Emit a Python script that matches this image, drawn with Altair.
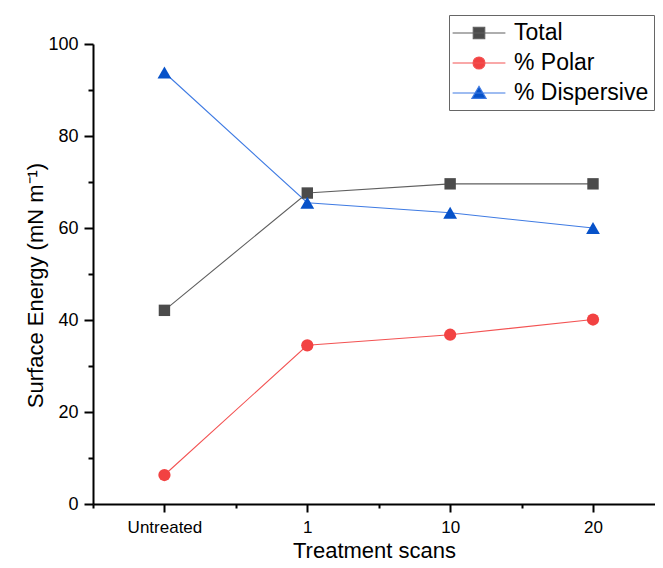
import pandas as pd
import altair as alt

# values
categories = ["Untreated", "1", "10", "20"]
positions = [0, 1, 2, 3]
series_names = ["Total", "% Polar", "% Dispersive"]
total = [42.1, 67.6, 69.6, 69.6]
polar = [6.3, 34.5, 36.8, 40.1]
dispersive = [93.8, 65.5, 63.3, 60.0]

# styling
line_colors = ["#5f5f5f", "#f35353", "#3f7be3"]
marker_colors = ["#4b4b4b", "#f24242", "#0752c9"]
marker_shapes = ["square", "circle", "triangle-up"]
marker_sizes = [130, 150, 190]
# legend glyphs: a line with the marker on top of it
legend_paths = [
    "M-2.2,0H2.2M-0.48,-0.48H0.48V0.48H-0.48Z",
    "M-2.2,0H2.2M-0.5,0A0.5,0.5 0 1,0 0.5,0A0.5,0.5 0 1,0 -0.5,0Z",
    "M-2.2,0H2.2M0,-0.55L0.6,0.45H-0.6Z",
]

rows = []
for name, vals in zip(series_names, [total, polar, dispersive]):
    for p, c, v in zip(positions, categories, vals):
        rows.append({"series": name, "pos": p, "category": c, "value": v})
df = pd.DataFrame(rows)

label_array = "[" + ",".join("'" + c + "'" for c in categories) + "]"

x_axis = alt.Axis(
    values=[-0.5, 0, 0.5, 1, 1.5, 2, 2.5, 3],
    labelExpr=f"datum.value % 1 == 0 ? {label_array}[datum.value] : ''",
    tickSize={"condition": {"test": "datum.value % 1 === 0", "value": 8}, "value": 4},
    labelPadding=7,
    labelFontSize=17,
    title="Treatment scans",
    titleFontSize=22,
    titleFontWeight="normal",
    titleX=281,
    titleY=46,
    titleBaseline="middle",
    grid=False,
)
y_axis = alt.Axis(
    values=list(range(0, 101, 10)),
    labelExpr="datum.value % 20 == 0 ? datum.value : ''",
    tickSize={"condition": {"test": "datum.value % 20 === 0", "value": 9}, "value": 5},
    labelPadding=6,
    labelFontSize=18,
    title="Surface Energy (mN m⁻¹)",
    titleFontSize=22,
    titleFontWeight="normal",
    titleAngle=270,
    titleX=-58,
    titleY=241,
    titleAlign="center",
    titleBaseline="middle",
    grid=False,
)

x_enc = alt.X("pos:Q", scale=alt.Scale(domain=[-0.5, 3.434], nice=False, zero=False), axis=x_axis)
y_enc = alt.Y("value:Q", scale=alt.Scale(domain=[0, 100], nice=False), axis=y_axis)

base = alt.Chart(df).encode(x=x_enc, y=y_enc)

# one line layer and one marker layer per series (constant styles, no shared scales)
layers = []
for name, lcol in zip(series_names, line_colors):
    one = base.transform_filter(alt.datum.series == name)
    layers.append(one.mark_line(strokeWidth=1.1, color=lcol))
for name, mcol, shp, sz in zip(series_names, marker_colors, marker_shapes, marker_sizes):
    one = base.transform_filter(alt.datum.series == name)
    layers.append(one.mark_point(filled=True, opacity=1, shape=shp, size=sz, color=mcol))

# empty layer that only carries the legend
legend_layer = (
    base.transform_filter("false")
    .mark_point(filled=True, opacity=1, size=576, strokeWidth=1.1)
    .encode(
        fill=alt.Fill("series:N", scale=alt.Scale(domain=series_names, range=marker_colors), title=None),
        stroke=alt.Stroke("series:N", scale=alt.Scale(domain=series_names, range=line_colors), title=None),
        shape=alt.Shape("series:N", scale=alt.Scale(domain=series_names, range=legend_paths), title=None),
    )
)
layers.append(legend_layer)

chart = (
    alt.layer(*layers)
    .properties(
        width=562,
        height=460,
        autosize=alt.AutoSizeParams(type="none"),
        padding={"left": 85, "top": 36, "right": 0, "bottom": 60},
    )
    .configure(font="Liberation Sans")
    .configure_view(stroke=None)
    .configure_axis(
        domainColor="black",
        domainWidth=2,
        tickColor="black",
        tickWidth=2,
        labelColor="black",
        titleColor="black",
        labelFont="Liberation Sans",
        titleFont="Liberation Sans",
    )
    .configure_legend(
        orient="none",
        legendX=356,
        legendY=-29,
        labelFont="Liberation Sans",
        labelFontSize=23,
        labelColor="black",
        symbolSize=576,
        symbolOffset=12,
        symbolStrokeWidth=1.1,
        symbolOpacity=1,
        labelOffset=22,
        rowPadding=5,
        padding=5,
        strokeColor="#666666",
        fillColor="white",
    )
)

chart.save("out.html", embed_options={"renderer": "svg", "actions": False})
